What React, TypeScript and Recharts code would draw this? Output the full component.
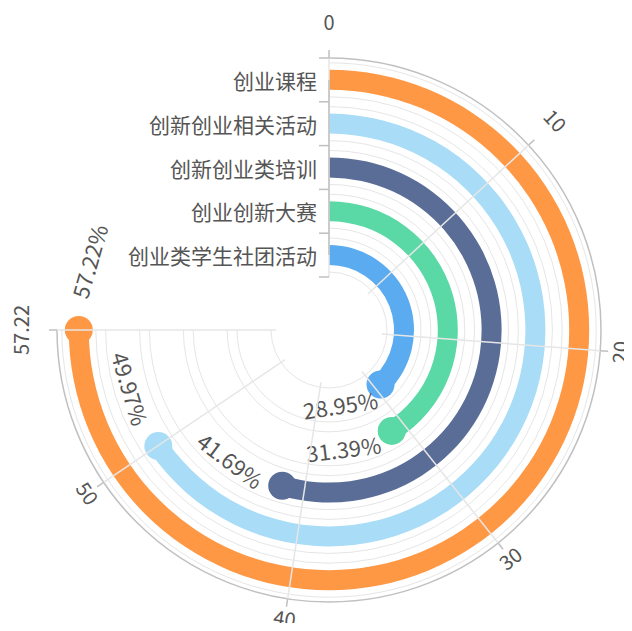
import { PolarAngleAxis, PolarRadiusAxis, RadialBar, RadialBarChart, Sector } from "recharts";

// Share of students who took part in each kind of entrepreneurship activity (%).
const categories = ["创业课程", "创新创业相关活动", "创新创业类培训", "创业创新大赛", "创业类学生社团活动"];
const percentages = [57.22, 49.97, 41.69, 31.39, 28.95];
const barColors = ["#FF9845", "#A8DCF7", "#5A6D97", "#5AD8A6", "#5AABF0"];
const angleTicks = [0, 10, 20, 30, 40, 50, 57.22];
const ANGLE_MAX = 57.22;

const WIDTH = 632;
const HEIGHT = 631;
const CX = 329;
const CY = 330;
const INNER = 53;
const OUTER = 272;
const START_ANGLE = 90;
const END_ANGLE = -180;
const BAR_SIZE = 20;
const RING_PAD = 7;
const CAP_RADIUS = 14;

const FONT = '"Noto Sans CJK SC", "Noto Sans", sans-serif';
const TEXT = "#555";
const GRID = "#e6e6e6";
const AXIS = "#c0c0c0";

// recharts lays category rings outward from innerRadius, so the innermost one goes first
const data = categories
  .map((name, i) => ({ name, value: percentages[i], fill: barColors[i] }))
  .reverse();

const RAD = Math.PI / 180;

function point(cx: number, cy: number, r: number, angle: number) {
  return { x: cx + r * Math.cos(-angle * RAD), y: cy + r * Math.sin(-angle * RAD) };
}

function arcPath(cx: number, cy: number, r: number, a0: number, a1: number) {
  const p0 = point(cx, cy, r, a0);
  const p1 = point(cx, cy, r, a1);
  const large = Math.abs(a0 - a1) > 180 ? 1 : 0;
  const sweep = a1 < a0 ? 1 : 0;
  return `M ${p0.x} ${p0.y} A ${r} ${r} 0 ${large} ${sweep} ${p1.x} ${p1.y}`;
}

// keep tangential text readable: never upside down
function readableRotation(theta: number) {
  if (theta < 90) return theta;
  if (theta < 270) return theta - 180;
  return theta - 360;
}

function BarShape(props: any) {
  const { cx, cy, innerRadius, outerRadius, startAngle, endAngle, payload } = props;
  const mid = (innerRadius + outerRadius) / 2;
  const end = point(cx, cy, mid, endAngle);
  // label sits a little past the round end, along the same ring
  const thetaLabel = 90 - endAngle + 8 + 35 / mid / RAD;
  const lp = point(cx, cy, mid, 90 - thetaLabel);
  return (
    <g>
      {/* thin track outline on both sides of the ring, over the whole angle range */}
      <path d={arcPath(cx, cy, innerRadius - RING_PAD, START_ANGLE, END_ANGLE)} fill="none" stroke={GRID} />
      <path d={arcPath(cx, cy, outerRadius + RING_PAD, START_ANGLE, END_ANGLE)} fill="none" stroke={GRID} />
      <Sector
        cx={cx}
        cy={cy}
        innerRadius={innerRadius}
        outerRadius={outerRadius}
        startAngle={startAngle}
        endAngle={endAngle}
        fill={payload.fill}
      />
      <circle cx={end.x} cy={end.y} r={CAP_RADIUS} fill={payload.fill} />
      <text
        x={lp.x}
        y={lp.y}
        textAnchor="middle"
        dominantBaseline="central"
        transform={`rotate(${readableRotation(thetaLabel)} ${lp.x} ${lp.y})`}
        fontSize={22}
        fontFamily={FONT}
        fill={TEXT}
      >
        {`${payload.value.toFixed(2)}%`}
      </text>
    </g>
  );
}

function AngleTick(props: any) {
  const { payload, index } = props;
  const angle = payload.coordinate;
  const a = point(CX, CY, INNER, angle);
  const b = point(CX, CY, OUTER, angle);
  const c = point(CX, CY, OUTER + 8, angle);
  const t = point(CX, CY, OUTER + 28, angle);
  const rot = readableRotation(90 - angle);
  return (
    <g>
      {index === 0 && (
        <path d={arcPath(CX, CY, OUTER, START_ANGLE, END_ANGLE)} fill="none" stroke={AXIS} strokeWidth={1.5} />
      )}
      <line x1={a.x} y1={a.y} x2={b.x} y2={b.y} stroke={GRID} strokeWidth={1.5} />
      <line x1={b.x} y1={b.y} x2={c.x} y2={c.y} stroke={AXIS} strokeWidth={1.5} />
      {/* text bottom rests on the anchor ring, whichever way the label is turned */}
      <text
        x={0}
        y={-9}
        textAnchor="middle"
        dominantBaseline="central"
        transform={`translate(${t.x} ${t.y}) rotate(${rot})`}
        fontSize={20}
        fontFamily={FONT}
        fill={TEXT}
      >
        {payload.value}
      </text>
    </g>
  );
}

function CategoryTick(props: any) {
  const { payload, index, x, y } = props;
  const half = (OUTER - INNER) / categories.length / 2;
  return (
    <g>
      <line x1={x - 10} y1={y - half} x2={x} y2={y - half} stroke={AXIS} strokeWidth={1.5} />
      {index === 0 && <line x1={x - 10} y1={y + half} x2={x} y2={y + half} stroke={AXIS} strokeWidth={1.5} />}
      <text
        x={x - 12}
        y={y}
        textAnchor="end"
        dominantBaseline="central"
        fontSize={21}
        fontFamily={FONT}
        fill={TEXT}
      >
        {payload.value}
      </text>
    </g>
  );
}

export default function App() {
  return (
    // cancel the body's default 8px margin so the svg covers the whole window
    <div style={{ margin: -8, width: WIDTH, height: HEIGHT }}>
      <RadialBarChart
        width={WIDTH}
        height={HEIGHT}
        data={data}
        cx={CX}
        cy={CY}
        innerRadius={INNER}
        outerRadius={OUTER}
        startAngle={START_ANGLE}
        endAngle={END_ANGLE}
        barSize={BAR_SIZE}
        margin={{ top: 0, right: 0, bottom: 0, left: 0 }}
      >
        <PolarAngleAxis
          type="number"
          domain={[0, ANGLE_MAX]}
          ticks={angleTicks}
          axisLine={false}
          tickLine={false}
          tick={<AngleTick />}
        />
        <PolarRadiusAxis
          type="category"
          dataKey="name"
          angle={90}
          axisLine={{ stroke: AXIS, strokeWidth: 1.5 }}
          tickLine={false}
          tick={<CategoryTick />}
        />
        <RadialBar dataKey="value" shape={(p: any) => <BarShape {...p} />} isAnimationActive={false} />
      </RadialBarChart>
    </div>
  );
}
